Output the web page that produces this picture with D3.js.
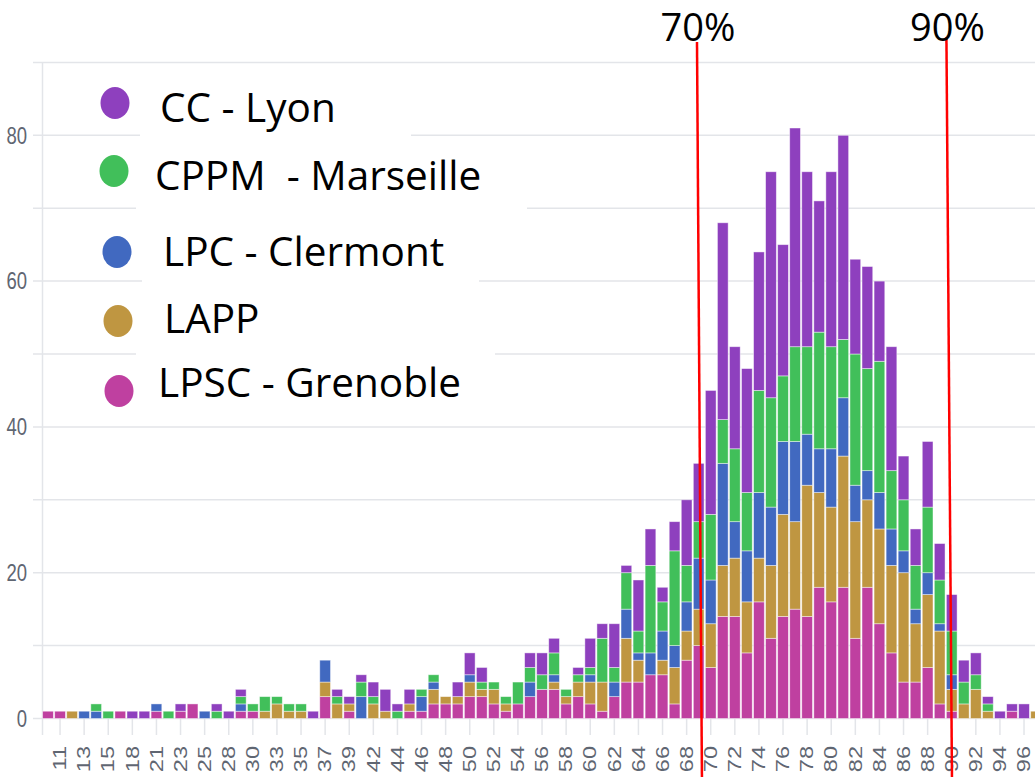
<!DOCTYPE html>
<html>
<head>
<meta charset="utf-8">
<script src="https://cdn.jsdelivr.net/npm/d3@7"></script>
<style>
  body { margin: 0; background: #fff; }
  svg { display: block; }
</style>
</head>
<body>
<svg id="chart" width="1035" height="777"></svg>
<script>
// categories on the x axis (only every other one gets a label)
const categories = ["10","11","12","13","14","15","16","18","20","21",
  "22","23","24","25","27","28","29","30","32","33",
  "34","35","36","37","38","39","41","42","43","44",
  "45","46","47","48","49","50","51","52","53","54",
  "55","56","57","58","59","60","61","62","63","64",
  "65","66","67","68","69","70","71","72","73","74",
  "75","76","77","78","79","80","81","82","83","84",
  "85","86","87","88","89","90","91","92","93","94",
  "95","96","97"];

// one value per category, stacked bottom -> top
const lpsc = [1,1,0,0,0,0,1,0,0,1, 0,1,2,0,0,0,1,1,0,0, 0,0,0,3,0,1,0,0,0,0,
  1,1,2,2,2,3,3,2,1,2, 3,4,4,2,3,2,1,3,5,5, 6,6,2,8,10,7,14,14,9,16,
  11,14,15,14,18,16,18,11,18,13, 9,5,5,7,2,1,0,0,0,0, 1,0,0];
const lapp = [0,0,1,0,0,0,0,0,0,0, 0,0,0,0,0,0,0,0,1,2, 1,1,0,2,2,1,0,2,1,0,
  1,0,2,1,1,2,1,2,1,0, 0,0,1,1,2,3,4,0,6,3, 0,2,5,4,5,6,7,8,7,6,
  10,14,12,18,13,13,18,16,12,13, 12,15,8,10,10,3,2,4,1,0, 0,0,1];
const lpc = [0,0,0,1,1,0,0,0,0,1, 0,0,0,1,0,0,1,0,0,0, 0,0,0,3,0,0,3,0,0,0,
  0,2,1,0,0,1,0,0,0,0, 2,0,1,0,0,1,0,2,4,1, 3,4,3,4,7,6,14,5,7,9,
  8,10,11,7,6,8,8,5,4,5, 5,3,2,3,1,2,0,0,0,0, 0,0,0];
const cppm = [0,0,0,0,1,1,0,0,0,0, 1,0,0,0,1,0,1,1,2,1, 1,1,0,0,1,0,2,1,0,1,
  0,1,1,0,0,0,1,1,1,3, 2,2,3,1,1,1,6,2,5,3, 12,4,13,5,5,9,6,10,8,14,
  15,9,13,12,16,14,8,18,14,18, 8,7,6,9,6,6,3,2,1,0, 0,0,0];
const ccLyon = [0,0,0,0,0,0,0,1,1,0, 0,1,0,0,1,1,1,0,0,0, 0,0,1,0,1,1,1,2,3,1,
  2,0,0,0,2,3,2,0,0,0, 2,3,2,0,1,4,2,6,1,7, 5,2,4,9,8,17,27,14,17,19,
  31,18,30,24,18,24,28,13,14,11, 17,6,5,9,5,5,3,3,1,1, 1,2,0];

const seriesKeys = ["lpsc", "lapp", "lpc", "cppm", "cc"];
const seriesNames = ["LPSC - Grenoble", "LAPP", "LPC - Clermont", "CPPM  - Marseille", "CC - Lyon"];
const colors = ["#bf40a0", "#bf9641", "#4169c0", "#41bf5a", "#8e40be"];
const yTickLabels = [0, 20, 40, 60, 80];

// threshold annotations, placed in bar-index units (hand drawn, slightly slanted)
const markers = [
  { label: "70%", top: 53.86, bottom: 54.27 },
  { label: "90%", top: 74.56, bottom: 75.02 }
];

const table = categories.map((c, i) => ({
  cat: c, lpsc: lpsc[i], lapp: lapp[i], lpc: lpc[i], cppm: cppm[i], cc: ccLyon[i]
}));
const stacked = d3.stack().keys(seriesKeys)(table);

const svg = d3.select("#chart");
const grid = "#e3e5e9";
const axisFont = "'Liberation Sans', Arial, sans-serif";
const axisColor = "#5f6672";

const x = d3.scaleBand()
  .domain(categories)
  .range([41.97, 1042.1])
  .paddingInner(0.11)
  .paddingOuter(0.055);
const y = d3.scaleLinear().domain([0, 90]).range([718.5, 62.4]);
const xAt = i => x.range()[0] + x.step() * (i + 0.5);

// gridlines every 10
svg.append("g")
  .selectAll("line")
  .data(y.ticks(9))
  .join("line")
  .attr("x1", 33).attr("x2", 1035)
  .attr("y1", d => y(d)).attr("y2", d => y(d))
  .attr("stroke", grid).attr("stroke-width", 1.5);

// y axis line
svg.append("line")
  .attr("x1", 42.5).attr("x2", 42.5)
  .attr("y1", y(90)).attr("y2", 735)
  .attr("stroke", grid).attr("stroke-width", 1.5);

// y labels
svg.append("g")
  .selectAll("text")
  .data(yTickLabels)
  .join("text")
  .attr("transform", d => `translate(27,${y(d)}) scale(1,1.25)`)
  .attr("text-anchor", "end")
  .attr("dominant-baseline", "central")
  .attr("font-family", axisFont)
  .attr("font-size", 18.5)
  .attr("fill", axisColor)
  .text(d => d);

// x ticks + labels on every other category
const labelled = categories.filter((c, i) => i % 2 === 1);
svg.append("g")
  .selectAll("line")
  .data(labelled)
  .join("line")
  .attr("x1", d => x(d) + x.bandwidth() / 2).attr("x2", d => x(d) + x.bandwidth() / 2)
  .attr("y1", y(0)).attr("y2", 735)
  .attr("stroke", grid).attr("stroke-width", 1.5);

svg.append("g")
  .selectAll("text")
  .data(labelled)
  .join("text")
  .attr("transform", d => `translate(${x(d) + x.bandwidth() / 2},746) rotate(-90) scale(1.24,1)`)
  .attr("text-anchor", "end")
  .attr("dominant-baseline", "central")
  .attr("font-family", axisFont)
  .attr("font-size", 19)
  .attr("fill", axisColor)
  .text(d => d);

// stacked bars
svg.append("g")
  .selectAll("g")
  .data(stacked)
  .join("g")
  .attr("fill", (d, i) => colors[i])
  .selectAll("rect")
  .data(d => d.filter(s => s[1] > s[0]))
  .join("rect")
  .attr("x", d => x(d.data.cat))
  .attr("width", x.bandwidth())
  .attr("y", d => y(d[1]))
  .attr("height", d => y(d[0]) - y(d[1]))
  .attr("stroke", "#ffffff")
  .attr("stroke-opacity", 0.55)
  .attr("stroke-width", 0.8);

// legend (pasted over the chart on white boxes)
const legendBoxes = [[140, 75, 271, 65], [136, 145, 391, 70], [142, 225, 337, 65], [140, 295, 160, 50], [136, 350, 359, 65]];
const legendText = [[160, 122], [155, 190], [163, 266], [164, 333], [158, 397]];
const legendDots = [[115, 103], [114, 171], [117, 252], [118, 321], [119, 391]];
const legendOrder = [4, 3, 2, 1, 0];

const leg = svg.append("g");
leg.selectAll("rect")
  .data(legendBoxes)
  .join("rect")
  .attr("x", d => d[0]).attr("y", d => d[1])
  .attr("width", d => d[2]).attr("height", d => d[3])
  .attr("fill", "#fff");
leg.selectAll("ellipse")
  .data(legendOrder)
  .join("ellipse")
  .attr("cx", (d, i) => legendDots[i][0])
  .attr("cy", (d, i) => legendDots[i][1])
  .attr("rx", 14.5).attr("ry", 16)
  .attr("fill", d => colors[d]);
leg.selectAll("text")
  .data(legendOrder)
  .join("text")
  .attr("x", (d, i) => legendText[i][0])
  .attr("y", (d, i) => legendText[i][1])
  .attr("font-family", "'Open Sans', sans-serif")
  .attr("font-size", 40.5)
  .attr("fill", "#000")
  .style("white-space", "pre")
  .text(d => seriesNames[d]);

// threshold lines
const mk = svg.append("g");
mk.selectAll("line")
  .data(markers)
  .join("line")
  .attr("x1", d => xAt(d.top)).attr("y1", (d, i) => i === 0 ? 42 : 37)
  .attr("x2", d => xAt(d.bottom)).attr("y2", 777)
  .attr("stroke", "#ff0000").attr("stroke-width", 2.5);
mk.selectAll("text")
  .data(markers)
  .join("text")
  .attr("x", d => xAt(d.top) + 1)
  .attr("y", 41)
  .attr("text-anchor", "middle")
  .attr("font-family", "'Open Sans', sans-serif")
  .attr("font-size", 38)
  .attr("fill", "#000")
  .text(d => d.label);
</script>
</body>
</html>
